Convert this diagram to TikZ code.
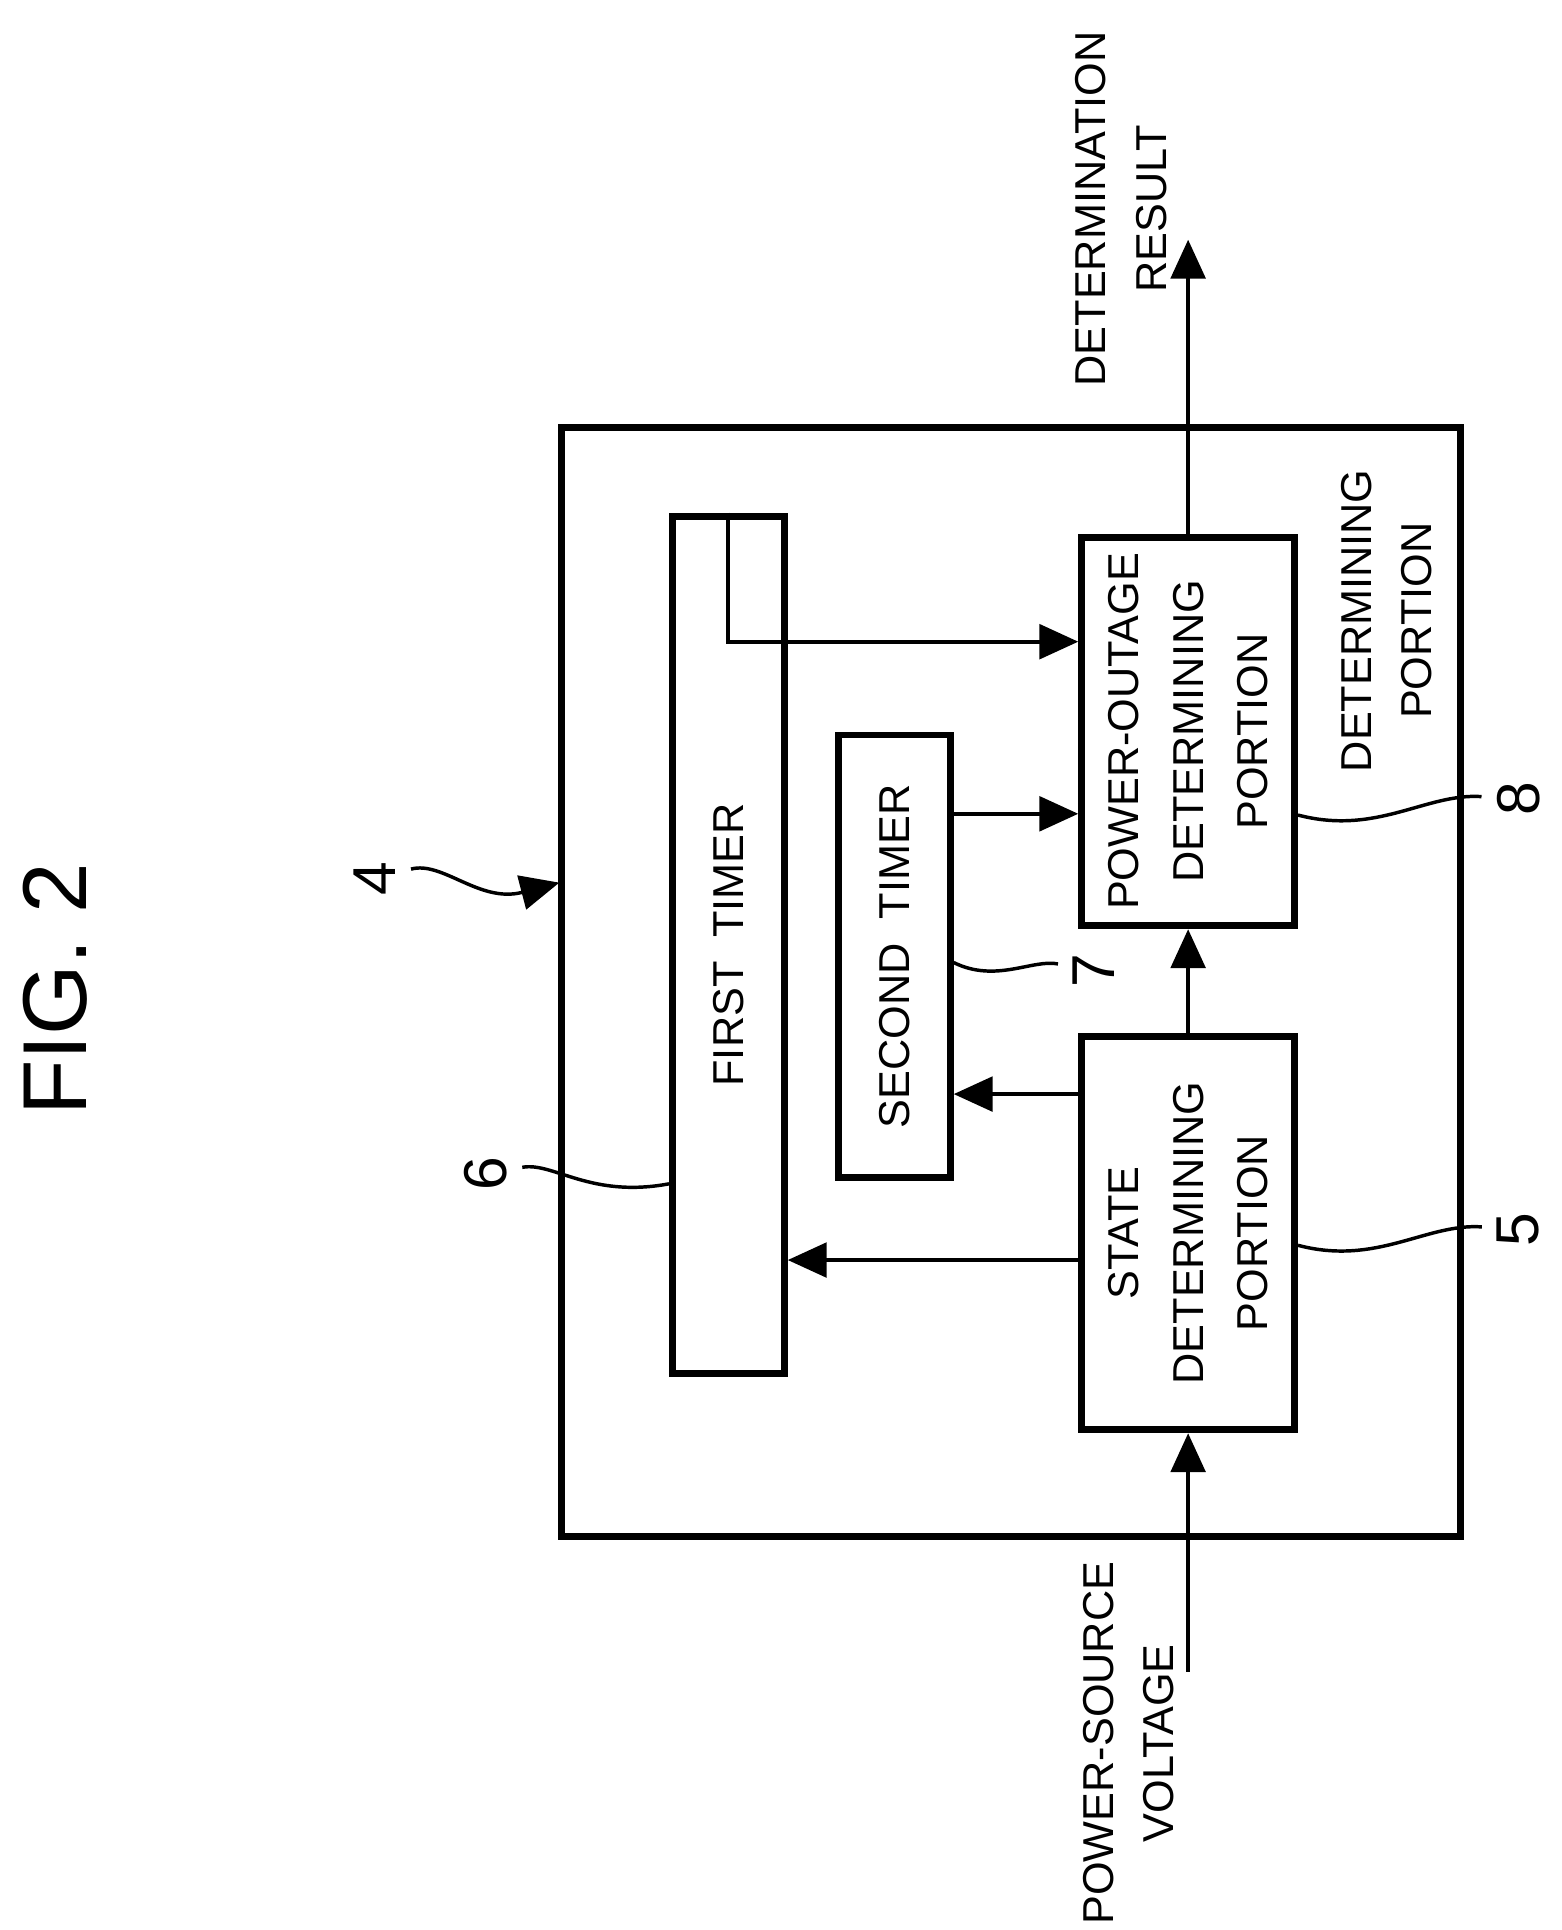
\documentclass[tikz,border=0pt]{standalone}
\usepackage{fontspec}
\setmainfont{Liberation Sans}
\usetikzlibrary{arrows.meta,positioning}
\tikzset{
  blk/.style={draw, line width=1.6pt, inner sep=0pt, rotate=90, align=center,
    font=\fontsize{10}{15}\selectfont},
  lbl/.style={rotate=90, align=center, font=\fontsize{10}{14}\selectfont},
  num/.style={rotate=90, font=\fontsize{14}{18}\selectfont},
  sig/.style={line width=0.9pt, -{Triangle[length=9pt,width=8pt]}},
  lead/.style={line width=0.8pt}
}
\begin{document}
\begin{tikzpicture}[x=0.01cm, y=-0.01cm]
    \useasboundingbox (0,0) rectangle (1270,1570);
    \node[rotate=90, font=\fontsize{21}{25}\selectfont] (fig) at (45,805) {FIG. 2};

    % determining portion
    \draw[line width=1.6pt] (457,348) rectangle (1188,1250);
    \node[lbl] (detp) at (1128,505) {DETERMINING\\PORTION};

    \node[blk, minimum width=3.2cm, minimum height=1.73cm] (state) at (966.5,1003) {STATE\\DETERMINING\\PORTION};
    \node[blk, minimum width=3.16cm, minimum height=1.73cm] (outage) at (966.5,595) {POWER-OUTAGE\\DETERMINING\\PORTION};
    \node[blk, minimum width=6.97cm, minimum height=0.91cm] (first) at (592.5,768.5) {FIRST\ \ TIMER};
    \node[blk, minimum width=3.6cm, minimum height=0.91cm] (second) at (727.5,778) {SECOND\ \ TIMER};

    % signals
    \node[lbl] (vin) at (918,1418) {POWER-SOURCE\\VOLTAGE};
    \node[lbl] (res) at (912,170) {DETERMINATION\\RESULT};
    \coordinate (in) at (966.5,1360);
    \coordinate (out) at (966.5,195);
    \draw[sig] (in) -- (state.west);
    \draw[sig] (state.east) -- (outage.west);
    \draw[sig] (outage.east) -- (out);
    \draw[sig] (state.north |- 0,1025) -- (first.south |- 0,1025);
    \draw[sig] (state.north |- 0,890) -- (second.south |- 0,890);
    \draw[sig] (second.south |- 0,662) -- (outage.north |- 0,662);
    \draw[sig] (first.east) |- (outage.north |- 0,522);

    % reference numerals
    \node[num] (n4) at (305,715) {4};
    \node[num] (n6) at (395,955) {6};
    \node[num] (n7) at (890,790) {7};
    \node[num] (n5) at (1235,1000) {5};
    \node[num] (n8) at (1235,650) {8};
    \draw[lead, -{Triangle[length=9pt,width=8pt]}] (n4) .. controls (360,700) and (390,735) .. (455,718);
    \draw[lead] (n6) .. controls (450,945) and (480,975) .. (first.north |- 0,963);
    \draw[lead] (n7) .. controls (840,780) and (810,800) .. (second.south |- 0,783);
    \draw[lead] (n5) .. controls (1160,995) and (1120,1030) .. (state.south |- 0,1013);
    \draw[lead] (n8) .. controls (1160,645) and (1120,680) .. (outage.south |- 0,663);
\end{tikzpicture}
\end{document}
